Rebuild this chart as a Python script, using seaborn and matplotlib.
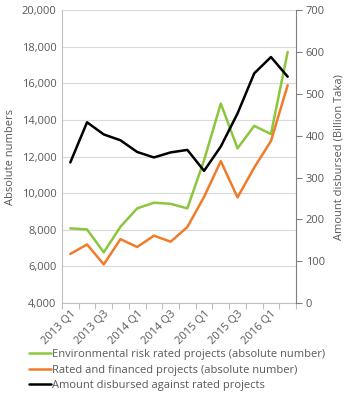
import numpy as np
import pandas as pd
import seaborn as sns
import matplotlib.pyplot as plt

# Quarterly data, 2013 Q1 - 2016 Q2
quarters = ["2013 Q1", "2013 Q2", "2013 Q3", "2013 Q4",
            "2014 Q1", "2014 Q2", "2014 Q3", "2014 Q4",
            "2015 Q1", "2015 Q2", "2015 Q3", "2015 Q4",
            "2016 Q1", "2016 Q2"]
env_rated = [8080, 8020, 6770, 8170, 9170, 9480, 9420, 9170,
             11800, 14900, 12450, 13680, 13230, 17720]
rated_financed = [6680, 7200, 6110, 7490, 7060, 7680, 7350, 8150,
                  9800, 11750, 9770, 11400, 12850, 15900]
amount_disbursed = [336, 432, 403, 389, 361, 348, 360, 366,
                    316, 374, 453, 549, 588, 541]

df = pd.DataFrame({
    "pos": np.arange(len(quarters)),
    "quarter": quarters,
    "env": env_rated,
    "financed": rated_financed,
    "amount": amount_disbursed,
})

sns.set_theme(style="white")
plt.rcParams["font.family"] = ["Open Sans", "DejaVu Sans"]
text_col = "#595959"

fig = plt.figure(figsize=(3.52, 4.07), dpi=100)
ax = fig.add_axes([0.176, 0.2555, 0.665, 0.7195])
ax2 = ax.twinx()

sns.lineplot(data=df, x="pos", y="env", ax=ax, color="#8CC63E", lw=1.8,
             label="Environmental risk rated projects (absolute number)", legend=False)
sns.lineplot(data=df, x="pos", y="financed", ax=ax, color="#F07C2B", lw=1.8,
             label="Rated and financed projects (absolute number)", legend=False)
sns.lineplot(data=df, x="pos", y="amount", ax=ax2, color="black", lw=1.8,
             label="Amount disbursed against rated projects", legend=False)

# left axis
ax.set_ylim(4000, 20000)
ax.set_yticks(range(4000, 20001, 2000))
ax.set_yticklabels([f"{v:,}" for v in range(4000, 20001, 2000)])
ax.yaxis.grid(True, color="#D9D9D9", lw=0.8)
ax.set_ylabel("Absolute numbers", color=text_col, fontsize=8, labelpad=4)

# right axis
ax2.set_ylim(0, 700)
ax2.set_yticks(range(0, 701, 100))
ax2.set_ylabel("Amount disbursed (Billion Taka)", color=text_col, fontsize=8, labelpad=6)
ax2.grid(False)

# x axis: categories, every other label, ticks at boundaries
ax.set_xlim(-0.5, len(quarters) - 0.5)
ax.set_xticks(df["pos"][::2])
ax.set_xticklabels(df["quarter"][::2], rotation=45, ha="right", rotation_mode="anchor")
ax.set_xticks(np.arange(-0.5, len(quarters), 1), minor=True)
ax.tick_params(axis="x", which="major", length=0, pad=4, labelsize=8, labelcolor=text_col)
ax.tick_params(axis="x", which="minor", length=4, color="#BFBFBF", width=0.8, bottom=True)
ax.tick_params(axis="y", length=0, labelsize=8, labelcolor=text_col, pad=4)
ax2.tick_params(axis="y", length=4, color="#7F7F7F", width=0.8, labelsize=8,
                labelcolor=text_col, pad=3, right=True)
ax.set_xlabel("")

ax.spines["top"].set_visible(False)
ax2.spines["top"].set_visible(False)
ax.spines["left"].set_color("#BFBFBF")
ax.spines["bottom"].set_color("#BFBFBF")
ax.spines["right"].set_visible(False)
ax2.spines["left"].set_visible(False)
ax2.spines["bottom"].set_visible(False)
ax2.spines["right"].set_color("#7F7F7F")
for a in (ax, ax2):
    for s in a.spines.values():
        s.set_linewidth(0.8)
ax.axhline(20000, color="#D9D9D9", lw=0.8)

handles = ax.get_lines()[:2] + ax2.get_lines()[:1]
labels = [h.get_label() for h in handles]
fig.legend(handles, labels, loc="upper left", bbox_to_anchor=(0.07, 0.153),
           frameon=False, fontsize=8, handlelength=2.0, handletextpad=0.1,
           labelspacing=0.4, borderaxespad=0, labelcolor=text_col)

fig.savefig("out.png", dpi=100)
